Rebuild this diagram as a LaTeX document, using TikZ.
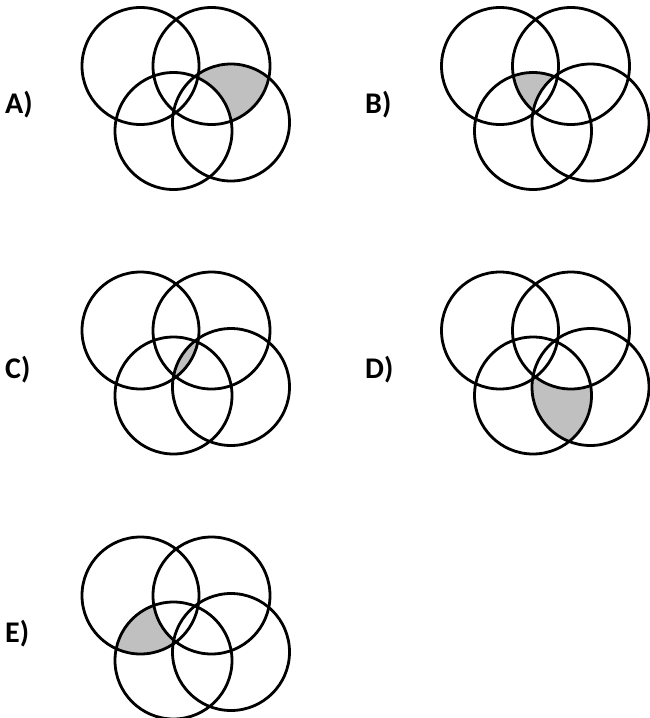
\documentclass[tikz,border=0pt]{standalone}
\usepackage{fontspec}
\setmainfont{Carlito}
\definecolor{shadegray}{RGB}{192,192,192}

% one set of four rings, origin = centre of the upper left ring
\newcommand{\fourrings}[1]{%
  \coordinate (#1TL) at (0,0);
  \coordinate (#1TR) at (71,0);
  \coordinate (#1BL) at (33,65);
  \coordinate (#1BR) at (90.5,56.5);
}
\newcommand{\drawrings}[1]{%
  \foreach \c in {TL,TR,BL,BR}
    \draw[ring] (#1\c) circle[radius=58.5pt];
}

\begin{document}
\begin{tikzpicture}[x=1pt, y=-1pt,
    ring/.style = {line width=2.8pt},
    lbl/.style  = {anchor=west, inner sep=0pt,
                   font=\bfseries\fontsize{30}{34}\selectfont}]

  \useasboundingbox[fill=white] (0,0) rectangle (649,718);

  % A
  \begin{scope}[shift={(140.5,66)}]
    \fourrings{a}
    \begin{scope}
      \clip (aTR) circle[radius=58.5pt];
      \clip (aBR) circle[radius=58.5pt];
      \fill[shadegray] (aBR) circle[radius=58.5pt];
      \fill[white] (aTL) circle[radius=58.5pt] (aBL) circle[radius=58.5pt];
    \end{scope}
    \drawrings{a}
  \end{scope}
  \node[lbl] (labA) at (5,105) {A)};

  % B
  \begin{scope}[shift={(500,66)}]
    \fourrings{b}
    \begin{scope}
      \clip (bTL) circle[radius=58.5pt];
      \clip (bTR) circle[radius=58.5pt];
      \clip (bBL) circle[radius=58.5pt];
      \fill[shadegray] (bBL) circle[radius=58.5pt];
      \fill[white] (bBR) circle[radius=58.5pt];
    \end{scope}
    \drawrings{b}
  \end{scope}
  \node[lbl] (labB) at (365,105) {B)};

  % C
  \begin{scope}[shift={(140.5,330.5)}]
    \fourrings{c}
    \begin{scope}
      \clip (cTL) circle[radius=58.5pt];
      \clip (cTR) circle[radius=58.5pt];
      \clip (cBL) circle[radius=58.5pt];
      \fill[shadegray] (cBR) circle[radius=58.5pt];
    \end{scope}
    \drawrings{c}
  \end{scope}
  \node[lbl] (labC) at (5,370) {C)};

  % D
  \begin{scope}[shift={(500,330.5)}]
    \fourrings{d}
    \begin{scope}
      \clip (dBL) circle[radius=58.5pt];
      \clip (dBR) circle[radius=58.5pt];
      \fill[shadegray] (dBR) circle[radius=58.5pt];
      \fill[white] (dTL) circle[radius=58.5pt] (dTR) circle[radius=58.5pt];
    \end{scope}
    \drawrings{d}
  \end{scope}
  \node[lbl] (labD) at (365,370) {D)};

  % E
  \begin{scope}[shift={(140.5,595.5)}]
    \fourrings{e}
    \begin{scope}
      \clip (eTL) circle[radius=58.5pt];
      \clip (eBL) circle[radius=58.5pt];
      \fill[shadegray] (eBL) circle[radius=58.5pt];
      \fill[white] (eTR) circle[radius=58.5pt] (eBR) circle[radius=58.5pt];
    \end{scope}
    \drawrings{e}
  \end{scope}
  \node[lbl] (labE) at (5,634) {E)};

\end{tikzpicture}
\end{document}
